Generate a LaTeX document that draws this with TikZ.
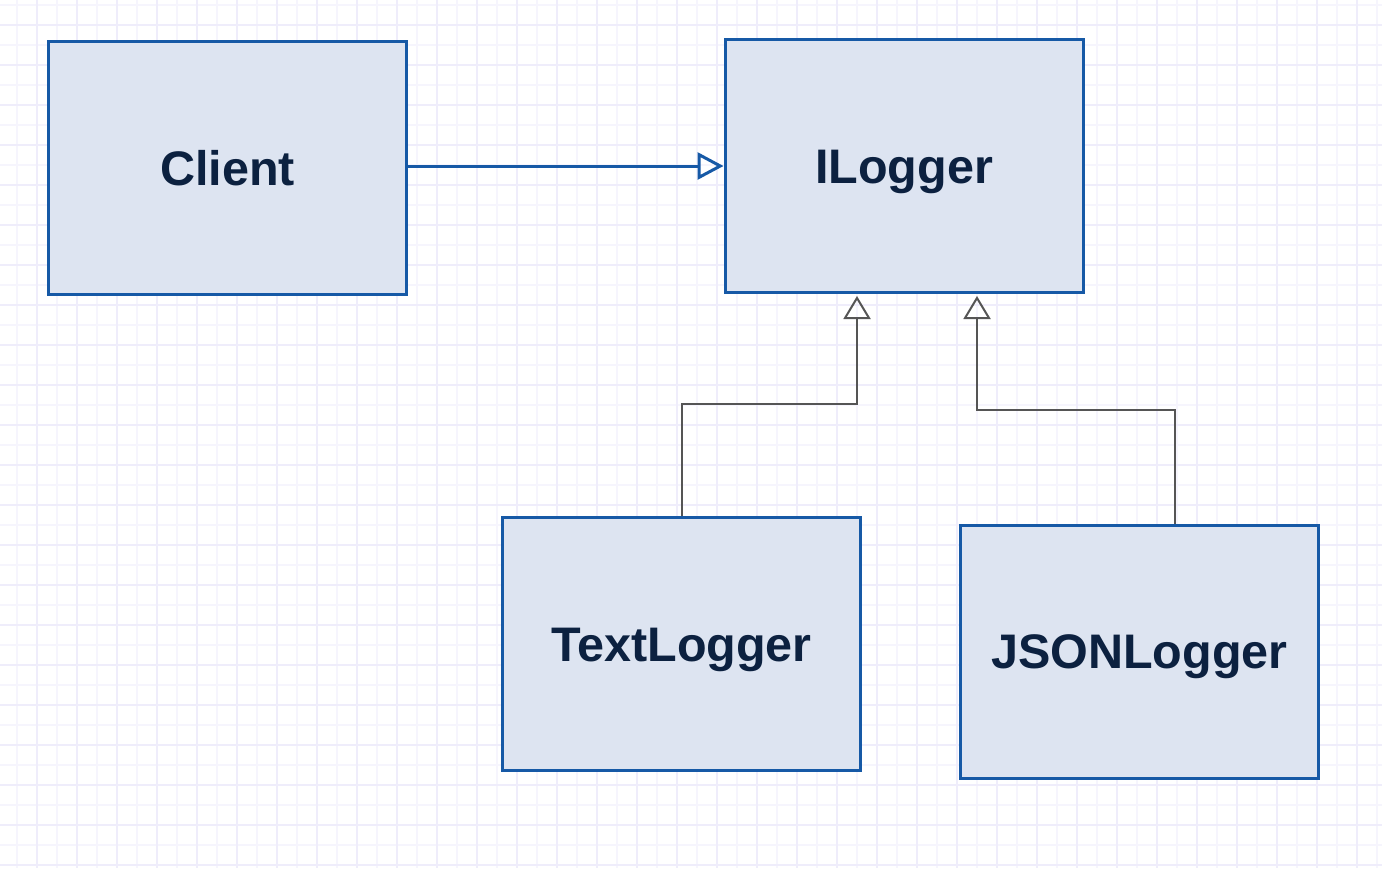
\documentclass[tikz,border=0pt]{standalone}
\usepackage{fontspec}
\setmainfont{Liberation Sans}
\usetikzlibrary{arrows.meta}
\definecolor{umlblue}{HTML}{1659A6}
\definecolor{umlfill}{HTML}{DDE4F1}
\definecolor{umltext}{HTML}{0C2140}
\definecolor{umlgray}{HTML}{555555}
\definecolor{gridminor}{HTML}{F6F5FD}
\definecolor{gridmajor}{HTML}{EFEDFB}

\begin{document}
\begin{tikzpicture}[x=1pt,y=-1pt,
    classbox/.style={draw=umlblue, line width=3pt, fill=umlfill, text=umltext,
      minimum width=358pt, minimum height=253pt, inner sep=0pt,
      text height=34.7pt, text depth=0pt,
      font=\bfseries\fontsize{48.5}{58}\selectfont},
    uses/.style={draw=umlblue, line width=3pt,
      -{Triangle[open,length=26pt,width=27pt,line width=3pt]}},
    realizes/.style={draw=umlgray, line width=2pt,
      -{Triangle[open,length=23pt,width=27pt,line width=2pt]}}]
  \useasboundingbox (0,0) rectangle (1382,868);
  \fill[white] (0,0) rectangle (1382,868);
  \foreach \gx in {17,57,...,1377} \draw[gridminor, line width=1.5pt] (\gx,0) -- (\gx,868);
  \foreach \gy in {5,45,...,865} \draw[gridminor, line width=1.5pt] (0,\gy) -- (1382,\gy);
  \foreach \gx in {37,77,...,1377} \draw[gridmajor, line width=1.5pt] (\gx,0) -- (\gx,868);
  \foreach \gy in {25,65,...,865} \draw[gridmajor, line width=1.5pt] (0,\gy) -- (1382,\gy);

  \node [classbox] (Client) at (227.5,168) {Client};
  \node [classbox] (ILogger) at (904,166) {ILogger};
  \node [classbox] (TextLogger) at (681.5,644) {TextLogger};
  \node [classbox] (JSONLogger) at (1139.5,651.5) {JSONLogger};

  \draw [uses] (Client.east |- ILogger.west) -- (ILogger.west);
  \draw [realizes] (TextLogger.north) -- ++(0,-112) -| ([xshift=-47pt,yshift=-2pt]ILogger.south);
  \draw [realizes] ([xshift=35.5pt]JSONLogger.north) -- ++(0,-114) -| ([xshift=73pt,yshift=-2pt]ILogger.south);
\end{tikzpicture}
\end{document}
